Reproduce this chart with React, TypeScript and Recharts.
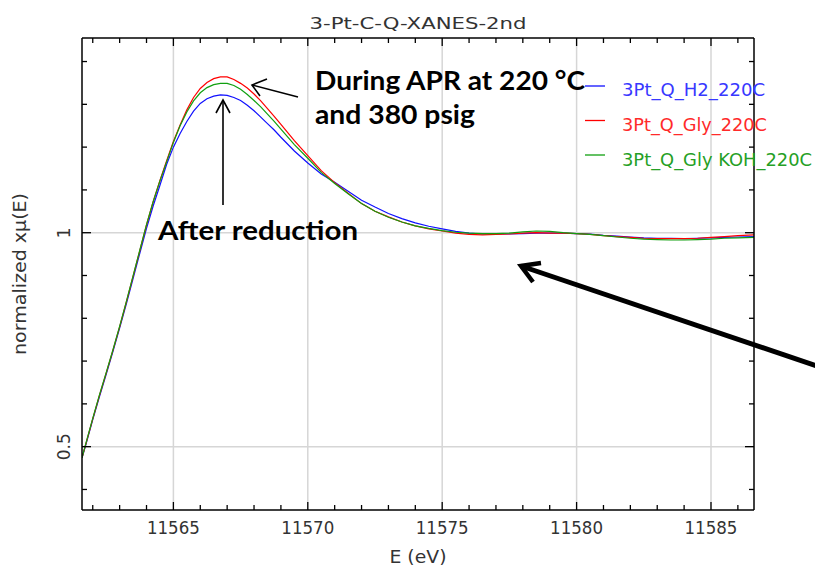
import React from 'react'
import { LineChart, Line, XAxis, YAxis, ReferenceLine } from 'recharts'

// photon energy (eV)
const energia = [
  11561.6, 11561.75, 11562, 11562.25, 11562.5, 11562.75, 11563, 11563.25, 11563.5, 11563.75,
  11564, 11564.25, 11564.5, 11564.75, 11565, 11565.25, 11565.5, 11565.75, 11566, 11566.25,
  11566.5, 11566.75, 11567, 11567.25, 11567.5, 11567.75, 11568, 11568.25, 11568.5, 11568.75,
  11569, 11569.5, 11570, 11570.5, 11571, 11571.5, 11572, 11572.5, 11573, 11573.5,
  11574, 11574.5, 11575, 11575.5, 11576, 11576.5, 11577, 11577.5, 11578, 11578.5,
  11579, 11579.5, 11580, 11580.5, 11581, 11581.5, 11582, 11582.5, 11583, 11583.5,
  11584, 11584.5, 11585, 11585.5, 11586, 11586.6
]

const h2_220 = [
  0.474, 0.506, 0.563, 0.617, 0.669, 0.722, 0.777, 0.834, 0.893, 0.952,
  1.010, 1.063, 1.111, 1.160, 1.200, 1.232, 1.260, 1.284, 1.302, 1.313,
  1.319, 1.322, 1.321, 1.316, 1.309, 1.298, 1.285, 1.270, 1.255, 1.240,
  1.223, 1.191, 1.163, 1.137, 1.118, 1.097, 1.076, 1.060, 1.045, 1.033,
  1.023, 1.015, 1.009, 1.003, 0.999, 0.997, 0.997, 0.997, 0.998, 0.999,
  0.999, 0.999, 0.998, 0.997, 0.994, 0.992, 0.990, 0.988, 0.987, 0.987,
  0.986, 0.987, 0.988, 0.989, 0.990, 0.991
]

const gly_220 = [
  0.474, 0.508, 0.565, 0.620, 0.672, 0.725, 0.780, 0.838, 0.898, 0.958,
  1.018, 1.073, 1.122, 1.168, 1.213, 1.252, 1.287, 1.316, 1.337, 1.351,
  1.360, 1.364, 1.364, 1.358, 1.349, 1.338, 1.324, 1.308, 1.290, 1.272,
  1.253, 1.215, 1.180, 1.145, 1.117, 1.092, 1.068, 1.050, 1.037, 1.025,
  1.016, 1.009, 1.004, 0.999, 0.996, 0.995, 0.996, 0.997, 0.999, 1.000,
  0.999, 0.999, 0.998, 0.996, 0.993, 0.991, 0.989, 0.987, 0.986, 0.986,
  0.986, 0.987, 0.989, 0.991, 0.993, 0.995
]

const glyKoh_220 = [
  0.474, 0.509, 0.566, 0.621, 0.673, 0.726, 0.781, 0.839, 0.899, 0.959,
  1.019, 1.073, 1.121, 1.166, 1.211, 1.250, 1.282, 1.308, 1.327, 1.339,
  1.346, 1.349, 1.349, 1.344, 1.335, 1.323, 1.309, 1.294, 1.277, 1.260,
  1.242, 1.206, 1.174, 1.141, 1.115, 1.091, 1.068, 1.050, 1.036, 1.025,
  1.016, 1.010, 1.005, 1.001, 0.999, 0.998, 0.998, 0.999, 1.002, 1.004,
  1.003, 1.000, 0.998, 0.996, 0.993, 0.990, 0.987, 0.985, 0.984, 0.983,
  0.983, 0.984, 0.985, 0.987, 0.988, 0.989
]

const sreni = [
  { key: 'h2', naam: '3Pt_Q_H2_220C', rang: '#1010ff', likhRang: '#3838ff', chaudai: 143 },
  { key: 'gly', naam: '3Pt_Q_Gly_220C', rang: '#ff0000', likhRang: '#ff2a2a', chaudai: 145 },
  { key: 'koh', naam: '3Pt_Q_Gly KOH_220C', rang: '#10a010', likhRang: '#25a025', chaudai: 190 }
]

const xDomain = [11561.6, 11586.6]
const yDomain = [0.352, 1.455]
const xTicks = [11562, 11563, 11564, 11565, 11566, 11567, 11568, 11569, 11570, 11571, 11572, 11573, 11574,
  11575, 11576, 11577, 11578, 11579, 11580, 11581, 11582, 11583, 11584, 11585, 11586]
const xMajor = [11565, 11570, 11575, 11580, 11585]
const yTicks = [0.4, 0.5, 0.6, 0.7, 0.8, 0.9, 1.0, 1.1, 1.2, 1.3, 1.4]
const yMajor = [0.5, 1]

const aankde = energia.map((e, i) => ({ e, h2: h2_220[i], gly: gly_220[i], koh: glyKoh_220[i] }))

const font = '"DejaVu Sans", sans-serif'
const boldFont = 'Lato, "Open Sans", sans-serif'
const isMajorX = (v: number) => xMajor.some(m => Math.abs(m - v) < 1e-6)
const isMajorY = (v: number) => yMajor.some(m => Math.abs(m - v) < 1e-6)

const BottomTick = (p: any) => {
  const v = p.payload.value
  const major = isMajorX(v)
  return (
    <g>
      <line x1={p.x} x2={p.x} y1={p.y} y2={p.y - (major ? 8 : 5)} stroke="#000" strokeWidth={1.3} />
      {major && (
        <text x={p.x} y={p.y + 24} textAnchor="middle" fontFamily={font} fontSize={17} fill="#333"
          textLength={53} lengthAdjust="spacingAndGlyphs">{v}</text>
      )}
    </g>
  )
}

const TopTick = (p: any) => {
  const major = isMajorX(p.payload.value)
  return <line x1={p.x} x2={p.x} y1={p.y} y2={p.y + (major ? 8 : 5)} stroke="#000" strokeWidth={1.3} />
}

const LeftTick = (p: any) => {
  const v = p.payload.value
  const major = isMajorY(v)
  return (
    <g>
      <line x1={p.x} x2={p.x + (major ? 9 : 5)} y1={p.y} y2={p.y} stroke="#000" strokeWidth={1.3} />
      {major && (
        <text x={p.x - 12} y={p.y} transform={`rotate(-90 ${p.x - 12} ${p.y})`} textAnchor="middle"
          fontFamily={font} fontSize={17} fill="#333">{v === 1 ? '1' : String(v)}</text>
      )}
    </g>
  )
}

const RightTick = (p: any) => {
  const major = isMajorY(p.payload.value)
  return <line x1={p.x} x2={p.x - (major ? 9 : 5)} y1={p.y} y2={p.y} stroke="#000" strokeWidth={1.3} />
}

const axisLine = { stroke: '#000', strokeWidth: 1.5 }

export default function XanesChart() {
  return (
    <div style={{ position: 'absolute', left: 0, top: 0, width: 815, height: 569, background: '#fff' }}>
      <LineChart width={815} height={569} data={aankde} margin={{ top: 37, right: 60, bottom: 58, left: 81 }}>
        <XAxis xAxisId="x" dataKey="e" type="number" domain={xDomain} allowDataOverflow ticks={xTicks}
          interval={0} height={1} tickSize={0} tickMargin={0} tickLine={false} axisLine={axisLine} tick={BottomTick} />
        <XAxis xAxisId="top" orientation="top" dataKey="e" type="number" domain={xDomain} allowDataOverflow ticks={xTicks}
          interval={0} height={1} tickSize={0} tickMargin={0} tickLine={false} axisLine={axisLine} tick={TopTick} />
        <YAxis yAxisId="y" type="number" domain={yDomain} allowDataOverflow ticks={yTicks}
          interval={0} width={1} tickSize={0} tickMargin={0} tickLine={false} axisLine={axisLine} tick={LeftTick} />
        <YAxis yAxisId="right" orientation="right" type="number" domain={yDomain} allowDataOverflow ticks={yTicks}
          interval={0} width={1} tickSize={0} tickMargin={0} tickLine={false} axisLine={axisLine} tick={RightTick} />

        {xMajor.map(v => (
          <ReferenceLine key={'gx' + v} xAxisId="x" yAxisId="y" x={v} stroke="#d6d6d6" strokeWidth={1.5} />
        ))}
        {yMajor.map(v => (
          <ReferenceLine key={'gy' + v} xAxisId="x" yAxisId="y" y={v} stroke="#d6d6d6" strokeWidth={1.5} />
        ))}

        {sreni.map(s => (
          <Line key={s.key} xAxisId="x" yAxisId="y" type="linear" dataKey={s.key} stroke={s.rang}
            strokeWidth={1.2} dot={false} isAnimationActive={false} />
        ))}
      </LineChart>

      <svg width={815} height={569} style={{ position: 'absolute', left: 0, top: 0, pointerEvents: 'none' }}>
        <text x={418} y={29} textAnchor="middle" fontFamily={font} fontSize={16} fill="#333"
          textLength={217} lengthAdjust="spacingAndGlyphs">3-Pt-C-Q-XANES-2nd</text>
        <text x={418} y={563} textAnchor="middle" fontFamily={font} fontSize={17} fill="#333"
          textLength={57} lengthAdjust="spacingAndGlyphs">E (eV)</text>
        <text x={26} y={274} transform="rotate(-90 26 274)" textAnchor="middle" fontFamily={font} fontSize={17}
          fill="#333" textLength={162} lengthAdjust="spacingAndGlyphs">normalized xμ(E)</text>

        {sreni.map((s, i) => (
          <g key={s.key}>
            <line x1={585} x2={605} y1={86 + i * 34.5} y2={86 + i * 34.5} stroke={s.rang} strokeWidth={1.3} />
            <text x={622} y={96 + i * 35} fontFamily={font} fontSize={17} fill={s.likhRang}
              textLength={s.chaudai} lengthAdjust="spacingAndGlyphs">{s.naam}</text>
          </g>
        ))}

        <text x={315} y={90} fontFamily={boldFont} fontWeight={700} fontSize={26} fill="#000"
          textLength={270} lengthAdjust="spacingAndGlyphs">During APR at 220 °C</text>
        <text x={315} y={124} fontFamily={boldFont} fontWeight={700} fontSize={26} fill="#000"
          textLength={160} lengthAdjust="spacingAndGlyphs">and 380 psig</text>
        <text x={158} y={240} fontFamily={boldFont} fontWeight={700} fontSize={26} fill="#000"
          textLength={200} lengthAdjust="spacingAndGlyphs">After reduction</text>

        <g stroke="#000" fill="none" strokeWidth={1.6}>
          <line x1={298} y1={97} x2={252} y2={85} />
          <polyline points="267,79 252,85 260,96" />
          <line x1={223} y1={205} x2={223} y2={100} />
          <polyline points="216,113 223,100 230,113" />
        </g>
        <g stroke="#000" fill="none" strokeWidth={5} strokeLinecap="butt">
          <line x1={820} y1={367} x2={521} y2={266} />
          <polyline points="541,263 521,266 533,282" strokeWidth={4.5} />
        </g>
      </svg>
    </div>
  )
}
